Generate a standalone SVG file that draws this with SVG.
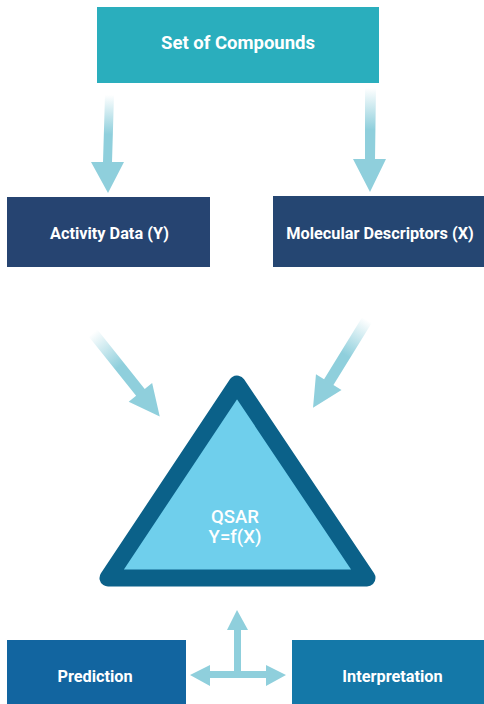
<svg xmlns="http://www.w3.org/2000/svg" width="484" height="704" viewBox="0 0 484 704">
  <defs>
    <linearGradient id="fade" x1="0" y1="0" x2="0" y2="1">
      <stop offset="0" stop-color="#8fcfdc" stop-opacity="0"/>
      <stop offset="0.4" stop-color="#8fcfdc" stop-opacity="1"/>
      <stop offset="1" stop-color="#8fcfdc" stop-opacity="1"/>
    </linearGradient>
    <style>
      .lbl { font-family: Roboto, "Liberation Sans", sans-serif; font-weight: 700; fill: #ffffff; text-anchor: middle; }
      .mid { font-weight: 500; }
      .arrow { fill: url(#fade); }
      .solid { fill: #8fcfdc; }
    </style>
  </defs>
  <rect width="484" height="704" fill="#ffffff"/>

  <g id="connectors">
    <polygon class="arrow" points="105,95 114,95 112,162 124,162 108,193 91,162 103,162"/>
    <polygon class="arrow" points="365,88 376,88 375,159 386,159 370,192 353,159 365,159"/>
    <polygon class="arrow" transform="translate(93,333) rotate(-38.6)" points="-5.5,0 5.5,0 5.5,76 15,76 0,107 -15,76 -5.5,76"/>
    <polygon class="arrow" transform="translate(367,320) rotate(31.6)" points="-5.5,0 5.5,0 5.5,73 15,73 0,103 -15,73 -5.5,73"/>
    <polygon class="solid" points="237,610 248,630 241,630 241,671 266,671 266,665 286,675 266,686 266,678 210,678 210,686 190,675 210,665 210,671 234,671 234,630 227,630"/>
  </g>

  <g id="set-of-compounds">
    <rect x="97" y="7" width="282" height="76" fill="#2aaebd"/>
    <text class="lbl" x="238" y="48.5" font-size="18.5">Set of Compounds</text>
  </g>

  <g id="activity-data">
    <rect x="7" y="197" width="203" height="70" fill="#264471"/>
    <text class="lbl" x="109.5" y="239" font-size="16.3">Activity Data (Y)</text>
  </g>

  <g id="molecular-descriptors">
    <rect x="273" y="196" width="211" height="71" fill="#254672"/>
    <text class="lbl" x="380" y="238.5" font-size="16.3">Molecular Descriptors (X)</text>
  </g>

  <g id="qsar">
    <polygon points="237,384 108,578 367,578" fill="#6fcfec" stroke="#0b6189" stroke-width="17" stroke-linejoin="round"/>
    <text class="lbl mid" x="235" y="523" font-size="18.5">QSAR</text>
    <text class="lbl mid" x="235" y="543" font-size="18.5">Y=f(X)</text>
  </g>

  <g id="prediction">
    <rect x="7" y="640" width="179" height="64" fill="#1265a0"/>
    <text class="lbl" x="95" y="681.5" font-size="16.3">Prediction</text>
  </g>

  <g id="interpretation">
    <rect x="292" y="640" width="192" height="64" fill="#1478a8"/>
    <text class="lbl" x="392.5" y="681.5" font-size="16.3">Interpretation</text>
  </g>
</svg>
